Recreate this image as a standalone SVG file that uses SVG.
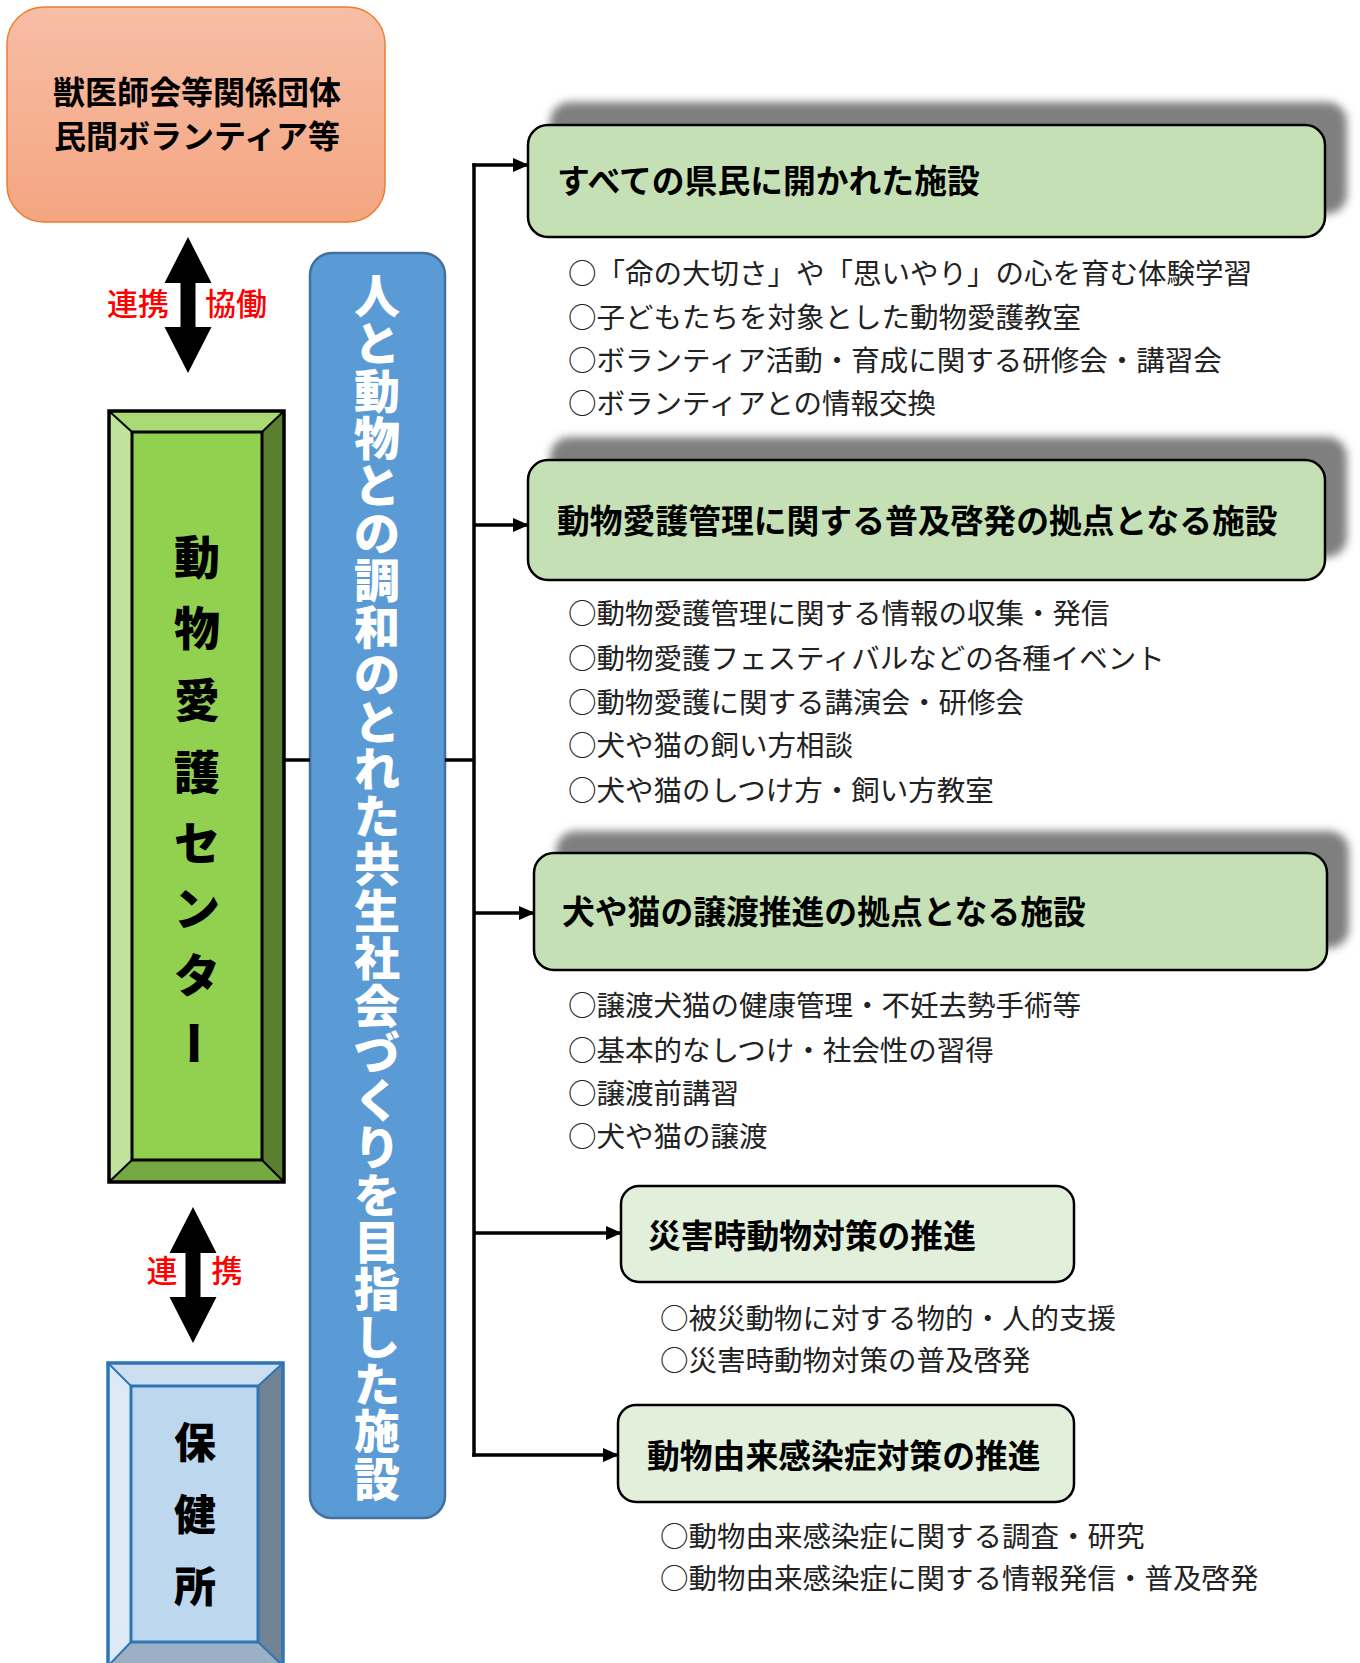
<svg xmlns="http://www.w3.org/2000/svg" width="1360" height="1663" viewBox="0 0 1360 1663">
<style>
.jp{font-family:"Noto Sans CJK JP","Noto Sans",sans-serif;}
.title{font-family:"Noto Sans CJK JP",sans-serif;font-size:32.8px;font-weight:700;fill:#000;dominant-baseline:central;}
.item{font-family:"Noto Sans CJK JP",sans-serif;font-size:28.5px;font-weight:400;fill:#222;dominant-baseline:central;}
.red{font-family:"Noto Sans CJK JP",sans-serif;font-size:31px;font-weight:500;fill:#FF0000;dominant-baseline:central;text-anchor:middle;}
.heavy{font-family:"Noto Sans CJK JP",sans-serif;font-weight:900;fill:#000;dominant-baseline:central;text-anchor:middle;}
.card{fill:#C5E0B4;stroke:#000;stroke-width:2.5;}
.card2{fill:#E2EFDA;stroke:#000;stroke-width:2.5;}
.shadow{fill:#7F7F7F;filter:url(#blur);}
.conn{stroke:#000;stroke-width:3.5;fill:none;}
.arr{stroke:#000;stroke-width:3.5;fill:none;marker-end:url(#ah);}
</style>
<defs>
<filter id="blur" x="-10%" y="-30%" width="120%" height="160%"><feGaussianBlur stdDeviation="4"/></filter>
<linearGradient id="og" x1="0" y1="0" x2="0" y2="1"><stop offset="0" stop-color="#F7BEA6"/><stop offset="1" stop-color="#F4A580"/></linearGradient>
<marker id="ah" markerUnits="userSpaceOnUse" markerWidth="16" markerHeight="14" refX="15" refY="7" orient="auto"><path d="M0,0 L16,7 L0,14 z" fill="#000"/></marker>
</defs>
<rect width="1360" height="1663" fill="#fff"/>

<g id="partners">
<rect x="7" y="7" width="378" height="215" rx="37" fill="url(#og)" stroke="#ED7D31" stroke-width="1.5"/>
<text class="jp" x="197" y="89.5" font-size="32" font-weight="700" text-anchor="middle" dominant-baseline="central">獣医師会等関係団体</text>
<text class="jp" x="197" y="133.5" font-size="32" font-weight="700" text-anchor="middle" dominant-baseline="central">民間ボランティア等</text>
</g>

<g id="link-top">
<polygon points="188,237 211.5,283 195.5,283 195.5,327 211.5,327 188,373 164.5,327 180.5,327 180.5,283 164.5,283" fill="#000"/>
<text class="red" x="138" y="301.5">連携</text>
<text class="red" x="236" y="301.5">協働</text>
</g>

<g id="center">
<polygon points="109,411 284,411 262,432 132,432" fill="#A9DA74"/>
<polygon points="109,411 132,432 132,1160 109,1182" fill="#BFE39A"/>
<polygon points="284,411 284,1182 262,1160 262,432" fill="#5B7F31"/>
<polygon points="109,1182 132,1160 262,1160 284,1182" fill="#74A840"/>
<rect x="132" y="432" width="130" height="728" fill="#92D050" stroke="#000" stroke-width="3"/>
<rect x="109" y="411" width="175" height="771" fill="none" stroke="#000" stroke-width="3.5"/>
<line x1="109" y1="411" x2="132" y2="432" stroke="#000" stroke-width="2"/>
<line x1="284" y1="411" x2="262" y2="432" stroke="#000" stroke-width="2"/>
<line x1="109" y1="1182" x2="132" y2="1160" stroke="#000" stroke-width="2"/>
<line x1="284" y1="1182" x2="262" y2="1160" stroke="#000" stroke-width="2"/>
<text class="heavy" x="197" y="553.5" font-size="46">動</text>
<text class="heavy" x="197" y="624.5" font-size="46">物</text>
<text class="heavy" x="197" y="696.5" font-size="46">愛</text>
<text class="heavy" x="197" y="768.5" font-size="46">護</text>
<text class="heavy" x="197" y="839.5" font-size="46">セ</text>
<text class="heavy" x="197" y="904.5" font-size="46">ン</text>
<text class="heavy" x="197" y="971.5" font-size="46">タ</text>
<text class="heavy" x="197" y="1043" font-size="46" transform="rotate(90 197 1043)">ー</text>
</g>

<g id="link-bottom">
<polygon points="193,1207 216.5,1253 200.5,1253 200.5,1297 216.5,1297 193,1343 169.5,1297 185.5,1297 185.5,1253 169.5,1253" fill="#000"/>
<text class="red" x="162" y="1268.5">連</text>
<text class="red" x="227" y="1268.5">携</text>
</g>

<g id="health-center">
<polygon points="108,1363 283,1363 258,1386 131,1386" fill="#CCDFF1"/>
<polygon points="108,1363 131,1386 131,1642 108,1666" fill="#DDEAF6"/>
<polygon points="283,1363 283,1666 258,1642 258,1386" fill="#718394"/>
<polygon points="108,1666 131,1642 258,1642 283,1666" fill="#9CB0C5"/>
<rect x="131" y="1386" width="127" height="256" fill="#BDD7EE" stroke="#2E75B6" stroke-width="3"/>
<rect x="108" y="1363" width="175" height="303" fill="none" stroke="#2E75B6" stroke-width="3.5"/>
<line x1="108" y1="1363" x2="131" y2="1386" stroke="#2E75B6" stroke-width="2"/>
<line x1="283" y1="1363" x2="258" y2="1386" stroke="#2E75B6" stroke-width="2"/>
<line x1="108" y1="1666" x2="131" y2="1642" stroke="#2E75B6" stroke-width="2"/>
<line x1="283" y1="1666" x2="258" y2="1642" stroke="#2E75B6" stroke-width="2"/>
<text class="heavy" x="195" y="1439.5" font-size="42">保</text>
<text class="heavy" x="195" y="1511.5" font-size="42">健</text>
<text class="heavy" x="195" y="1583.5" font-size="42">所</text>
</g>

<g id="banner">
<rect x="310" y="253" width="135" height="1265" rx="22" fill="#5B9BD5" stroke="#41719C" stroke-width="2.5"/>
<text class="heavy" style="fill:#fff" font-size="46" x="377 377 377 377 377 377 377 377 377 377 377 377 377 377 377 377 377 377 377 377 377 377 377 377 377 377" y="293 340.3 387.6 434.9 482.2 529.5 576.8 624.1 671.4 718.7 766 813.3 860.6 907.9 955.2 1002.5 1049.8 1097.1 1144.4 1191.7 1239 1286.3 1333.6 1380.9 1428.2 1475.5">人と動物との調和のとれた共生社会づくりを目指した施設</text>
</g>

<g id="connectors">
<line class="conn" x1="284" y1="760" x2="310" y2="760"/>
<line class="conn" x1="445" y1="760" x2="474" y2="760"/>
<path class="conn" d="M474,1455 V165" stroke-linecap="square"/>
<line class="arr" x1="474" y1="165" x2="528" y2="165" stroke-linecap="square"/>
<line class="arr" x1="474" y1="525" x2="528" y2="525"/>
<line class="arr" x1="474" y1="913" x2="534" y2="913"/>
<line class="arr" x1="474" y1="1233" x2="621" y2="1233"/>
<line class="arr" x1="474" y1="1455" x2="618" y2="1455" stroke-linecap="square"/>
</g>

<g id="facility-open">
<rect class="shadow" x="550" y="102" width="797" height="112" rx="20"/>
<rect class="card" x="528" y="125" width="797" height="112" rx="20"/>
<text class="title" x="557" y="178.5">すべての県民に開かれた施設</text>
<text class="item" x="568" y="271.5">○「命の大切さ」や「思いやり」の心を育む体験学習</text>
<text class="item" x="568" y="315.5">○子どもたちを対象とした動物愛護教室</text>
<text class="item" x="568" y="358.5">○ボランティア活動・育成に関する研修会・講習会</text>
<text class="item" x="568" y="401.5">○ボランティアとの情報交換</text>
</g>

<g id="facility-education">
<rect class="shadow" x="550" y="437" width="797" height="120" rx="20"/>
<rect class="card" x="528" y="460" width="797" height="120" rx="20"/>
<text class="title" x="557" y="518.5">動物愛護管理に関する普及啓発の拠点となる施設</text>
<text class="item" x="568" y="611.5">○動物愛護管理に関する情報の収集・発信</text>
<text class="item" x="568" y="656.5">○動物愛護フェスティバルなどの各種イベント</text>
<text class="item" x="568" y="700.5">○動物愛護に関する講演会・研修会</text>
<text class="item" x="568" y="743.5">○犬や猫の飼い方相談</text>
<text class="item" x="568" y="788.5">○犬や猫のしつけ方・飼い方教室</text>
</g>

<g id="facility-adoption">
<rect class="shadow" x="556" y="831" width="793" height="117" rx="20"/>
<rect class="card" x="534" y="853" width="793" height="117" rx="20"/>
<text class="title" x="562" y="909.5">犬や猫の譲渡推進の拠点となる施設</text>
<text class="item" x="568" y="1003.5">○譲渡犬猫の健康管理・不妊去勢手術等</text>
<text class="item" x="568" y="1048.5">○基本的なしつけ・社会性の習得</text>
<text class="item" x="568" y="1091.5">○譲渡前講習</text>
<text class="item" x="568" y="1134.5">○犬や猫の譲渡</text>
</g>

<g id="facility-disaster">
<rect class="card2" x="621" y="1186" width="453" height="96" rx="18"/>
<text class="title" x="648" y="1233.5">災害時動物対策の推進</text>
<text class="item" x="660" y="1316.5">○被災動物に対する物的・人的支援</text>
<text class="item" x="660" y="1358.5">○災害時動物対策の普及啓発</text>
</g>

<g id="facility-zoonosis">
<rect class="card2" x="618" y="1405" width="456" height="97" rx="18"/>
<text class="title" x="647" y="1453.5">動物由来感染症対策の推進</text>
<text class="item" x="660" y="1534.5">○動物由来感染症に関する調査・研究</text>
<text class="item" x="660" y="1576.5">○動物由来感染症に関する情報発信・普及啓発</text>
</g>
</svg>
